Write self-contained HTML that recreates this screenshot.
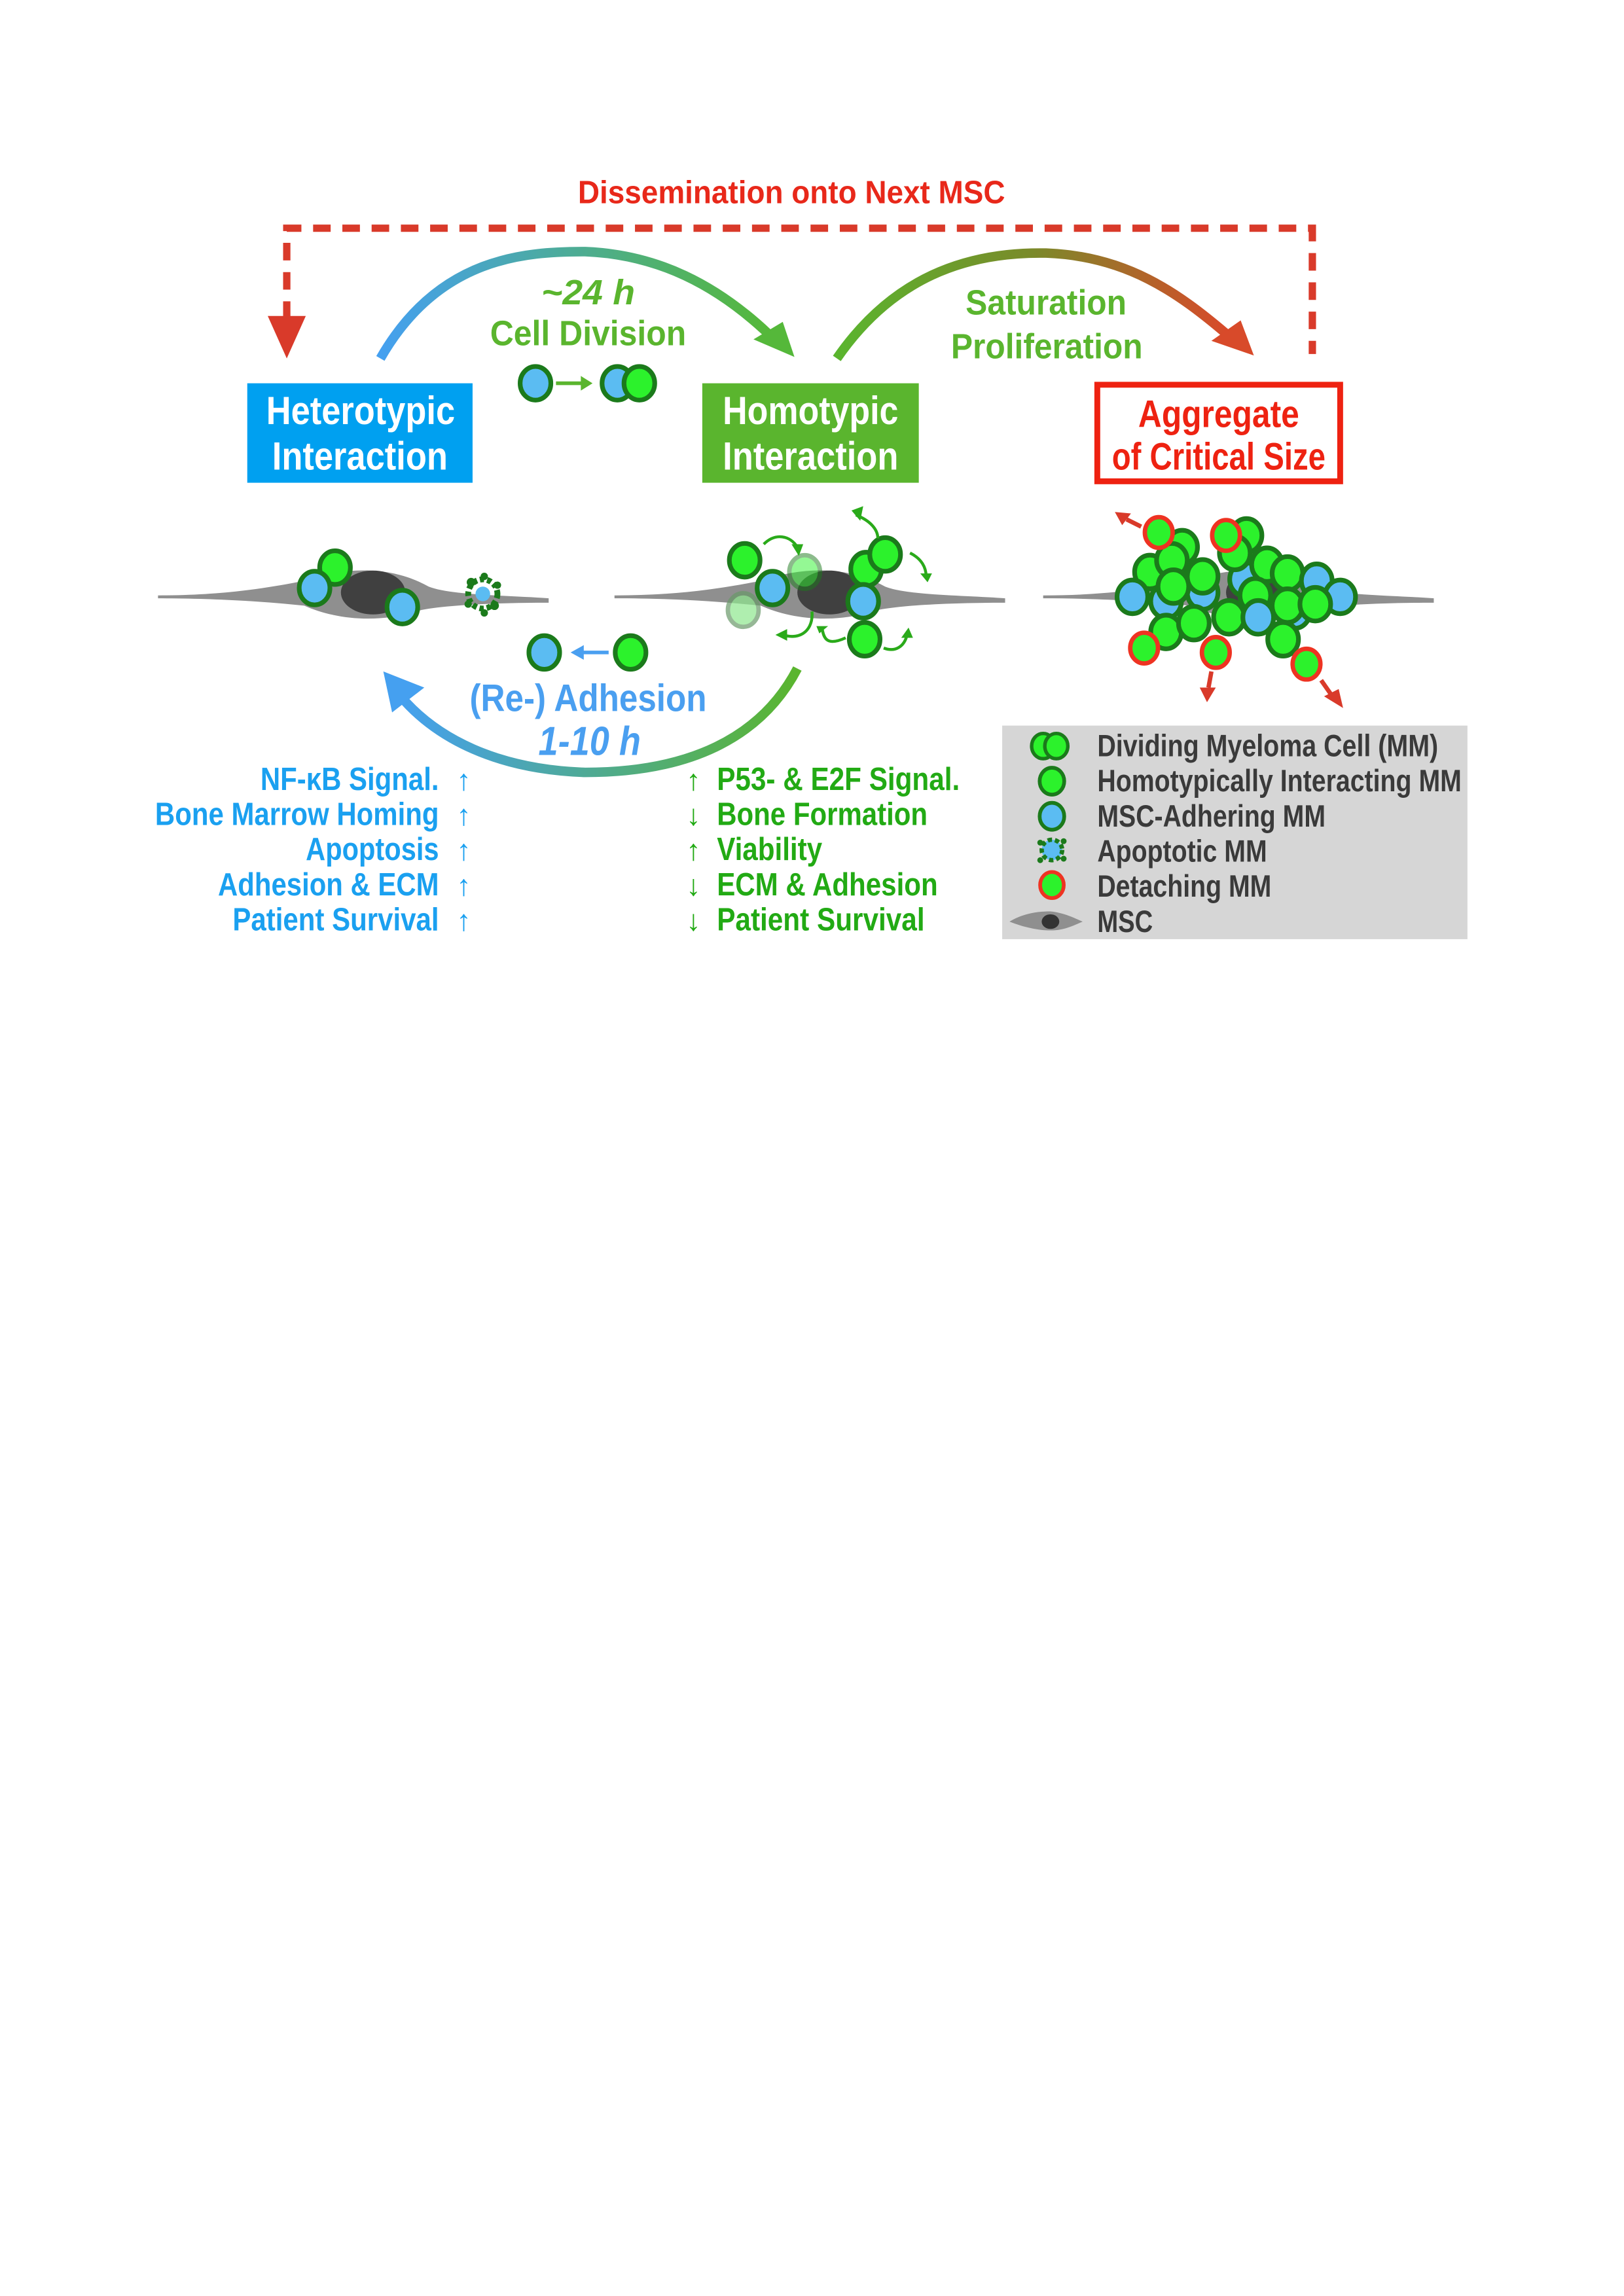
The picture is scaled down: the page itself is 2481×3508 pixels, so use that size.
<!DOCTYPE html>
<html><head><meta charset="utf-8"><style>
html,body{margin:0;padding:0;background:#fff}
svg{display:block}
text{font-family:"Liberation Sans Narrow","Liberation Sans",sans-serif;font-weight:bold}
</style></head><body>
<svg width="2481" height="3508" viewBox="0 0 1110 1569.5" xmlns="http://www.w3.org/2000/svg">
<defs>
<linearGradient id="g1" x1="0" x2="1"><stop offset="0" stop-color="#45a0f0"/><stop offset="1" stop-color="#55b83a"/></linearGradient>
<linearGradient id="g2" x1="0" x2="1"><stop offset="0" stop-color="#5ab52e"/><stop offset="0.5" stop-color="#7a8a2a"/><stop offset="1" stop-color="#d84a2a"/></linearGradient>
<linearGradient id="g3" x1="0" x2="1"><stop offset="0" stop-color="#45a0f0"/><stop offset="1" stop-color="#5ab52e"/></linearGradient>
<g id="msc"><path d="M0,0 C40,0 70,-4 100,-10 C130,-20 160,-20 185,-6 C200,0 240,0 267,2 L267,5 C240,5 200,6 180,10 C150,20 120,16 100,7 C70,4 40,2 0,2Z" fill="#8f8f8f"/></g>
<g id="gc"><ellipse rx="10.5" ry="11.5" fill="#2cf22c" stroke="#1b7a1b" stroke-width="3.2"/></g>
<g id="bc"><ellipse rx="10.5" ry="11.5" fill="#5bbcf2" stroke="#1b7a1b" stroke-width="3.2"/></g>
<g id="rc"><ellipse rx="9.5" ry="10.5" fill="#2cf22c" stroke="#ee3322" stroke-width="3"/></g>
</defs>

<text x="395" y="139" font-size="22" fill="#e8281a" textLength="292" lengthAdjust="spacingAndGlyphs">Dissemination onto Next MSC</text>
<path d="M196,218 V156 H897 V242" fill="none" stroke="#d93a2a" stroke-width="5" stroke-dasharray="12,8"/>
<polygon points="183,216 209,216 196,245" fill="#d93a2a"/>

<path d="M260,245 C300,175 360,172 400,172 C450,174 490,195 525,228" fill="none" stroke="url(#g1)" stroke-width="6.5"/>
<polygon points="515,232 535,220 543,244" fill="#55b83a"/>
<path d="M572,245 C610,190 660,172 715,173 C770,175 805,200 838,228" fill="none" stroke="url(#g2)" stroke-width="6.5"/>
<polygon points="828,233 848,219 857,243" fill="#d84a2a"/>

<text x="370" y="208" font-size="24" fill="#5ab52e" font-style="italic" textLength="64" lengthAdjust="spacingAndGlyphs">~24 h</text>
<text x="335" y="236" font-size="24" fill="#5ab52e" textLength="134" lengthAdjust="spacingAndGlyphs">Cell Division</text>
<text x="660" y="215" font-size="24" fill="#5ab52e" textLength="110" lengthAdjust="spacingAndGlyphs">Saturation</text>
<text x="650" y="245" font-size="24" fill="#5ab52e" textLength="131" lengthAdjust="spacingAndGlyphs">Proliferation</text>

<use href="#bc" x="366" y="262"/>
<path d="M380,262 H398" stroke="#5ab52e" stroke-width="2.5"/><polygon points="397,257 405,262 397,267" fill="#5ab52e"/>
<use href="#bc" x="422" y="262"/><use href="#gc" x="437" y="262"/>

<rect x="169" y="262" width="154" height="68" fill="#00a0f0"/>
<text x="182" y="290" font-size="27" fill="#fff" textLength="129" lengthAdjust="spacingAndGlyphs">Heterotypic</text>
<text x="186" y="321" font-size="27" fill="#fff" textLength="120" lengthAdjust="spacingAndGlyphs">Interaction</text>
<rect x="480" y="262" width="148" height="68" fill="#5ab52e"/>
<text x="494" y="290" font-size="27" fill="#fff" textLength="120" lengthAdjust="spacingAndGlyphs">Homotypic</text>
<text x="494" y="321" font-size="27" fill="#fff" textLength="120" lengthAdjust="spacingAndGlyphs">Interaction</text>
<rect x="750" y="263" width="166" height="66" fill="none" stroke="#ee2211" stroke-width="4"/>
<text x="778" y="292" font-size="26" fill="#ee2211" textLength="110" lengthAdjust="spacingAndGlyphs">Aggregate</text>
<text x="760" y="321" font-size="26" fill="#ee2211" textLength="146" lengthAdjust="spacingAndGlyphs">of Critical Size</text>

<!-- MSCs -->
<use href="#msc" x="108" y="407"/>
<ellipse cx="255" cy="405" rx="22" ry="15" fill="#404040"/>
<use href="#msc" x="420" y="407"/>
<ellipse cx="567" cy="405" rx="22" ry="15" fill="#404040"/>
<use href="#msc" x="713" y="407"/>
<ellipse cx="860" cy="405" rx="22" ry="15" fill="#404040"/>

<!-- left cells -->
<rect x="205" y="395" width="6" height="14" fill="#1a90e0"/>
<use href="#gc" x="229" y="388"/><use href="#bc" x="215" y="402"/><use href="#bc" x="275" y="415"/>
<g fill="#1b7a1b"><circle cx="330" cy="406" r="10" fill="none" stroke="#1b7a1b" stroke-width="4" stroke-dasharray="3,2"/><circle cx="330" cy="406" r="5" fill="#5bbcf2"/><circle cx="322" cy="398" r="3"/><circle cx="338" cy="414" r="3"/><circle cx="340" cy="400" r="2.5"/><circle cx="320" cy="413" r="2.5"/><circle cx="331" cy="394" r="2.5"/><circle cx="331" cy="419" r="2.5"/></g>

<!-- middle cells -->
<use href="#gc" x="509" y="383"/><use href="#bc" x="528" y="402"/>
<ellipse cx="550" cy="391" rx="10.5" ry="11.5" fill="#2cf22c" stroke="#1b7a1b" stroke-width="3" opacity="0.5"/>
<ellipse cx="508" cy="417" rx="10.5" ry="11.5" fill="#8ee88e" stroke="#6a9a6a" stroke-width="3" opacity="0.7"/>
<use href="#gc" x="592" y="389"/><use href="#gc" x="605" y="379"/><use href="#bc" x="590" y="411"/><use href="#gc" x="591" y="437"/>
<g fill="none" stroke="#2aaa1a" stroke-width="2">
<path d="M522,372 C530,364 540,366 545,374"/><path d="M585,352 C595,356 600,362 600,368"/><path d="M622,378 C630,382 633,388 633,394"/>
<path d="M555,418 C556,430 548,438 535,434"/><path d="M578,436 C565,442 563,436 562,430"/><path d="M604,443 C612,446 618,442 620,434"/></g>
<g fill="#2aaa1a"><polygon points="541,372 549,372 546,380"/><polygon points="582,349 590,346 588,356"/><polygon points="629,392 637,392 634,398"/><polygon points="538,430 538,438 530,434"/><polygon points="558,428 566,428 560,433"/><polygon points="616,436 624,436 621,429"/></g>

<!-- aggregate -->
<use href="#gc" x="808" y="374"/><use href="#gc" x="852" y="366"/>
<use href="#gc" x="786" y="391"/><use href="#gc" x="801" y="383"/><use href="#bc" x="851" y="396"/><use href="#gc" x="844" y="378"/>
<use href="#gc" x="866" y="386"/><use href="#gc" x="880" y="392"/><use href="#bc" x="900" y="397"/>
<use href="#bc" x="774" y="408"/><use href="#bc" x="797" y="411"/><use href="#bc" x="822" y="405"/><use href="#gc" x="802" y="401"/><use href="#gc" x="822" y="394"/>
<use href="#gc" x="858" y="407"/><use href="#bc" x="885" y="418"/><use href="#gc" x="880" y="414"/><use href="#bc" x="916" y="408"/><use href="#gc" x="899" y="413"/>
<use href="#gc" x="797" y="432"/><use href="#gc" x="816" y="426"/><use href="#gc" x="840" y="422"/><use href="#bc" x="860" y="422"/>
<use href="#gc" x="877" y="437"/>
<use href="#rc" x="792" y="364"/><use href="#rc" x="838" y="366"/><use href="#rc" x="782" y="443"/><use href="#rc" x="831" y="446"/><use href="#rc" x="893" y="454"/>
<g stroke="#d93a2a" stroke-width="3"><path d="M780,360 L770,355"/><path d="M828,459 L826,470"/><path d="M903,465 L910,475"/></g>
<g fill="#d93a2a"><polygon points="762,350 773,351 767,359"/><polygon points="820,470 831,470 825,480"/><polygon points="905,476 915,471 918,484"/></g>

<!-- readhesion -->
<use href="#bc" x="372" y="446"/><use href="#gc" x="431" y="446"/>
<path d="M398,446 H416" stroke="#4a9ff0" stroke-width="2.5"/><polygon points="399,441 390,446 399,451" fill="#4a9ff0"/>
<path d="M545,457 C520,505 470,528 400,528 C340,526 298,505 273,475" fill="none" stroke="url(#g3)" stroke-width="6.5"/>
<polygon points="262,459 290,470 268,487" fill="#45a0f0"/>
<text x="321" y="486" font-size="26" fill="#4a9ff0" textLength="162" lengthAdjust="spacingAndGlyphs">(Re-) Adhesion</text>
<text x="368" y="516" font-size="28" fill="#4a9ff0" font-style="italic" textLength="70" lengthAdjust="spacingAndGlyphs">1-10 h</text>

<!-- lists -->
<g font-size="22" fill="#1aa0f0" lengthAdjust="spacingAndGlyphs">
<text x="178" y="540" textLength="122" lengthAdjust="spacingAndGlyphs">NF-κB Signal.</text>
<text x="106" y="564" textLength="194" lengthAdjust="spacingAndGlyphs">Bone Marrow Homing</text>
<text x="209" y="588" textLength="91" lengthAdjust="spacingAndGlyphs">Apoptosis</text>
<text x="149" y="612" textLength="151" lengthAdjust="spacingAndGlyphs">Adhesion &amp; ECM</text>
<text x="159" y="636" textLength="141" lengthAdjust="spacingAndGlyphs">Patient Survival</text></g>
<g font-size="20" fill="#1aa0f0" text-anchor="middle" font-weight="normal">
<text x="317" y="540">↑</text><text x="317" y="564">↑</text><text x="317" y="588">↑</text><text x="317" y="612">↑</text><text x="317" y="636">↑</text></g>
<g font-size="22" fill="#22aa14">
<text x="490" y="540" textLength="166" lengthAdjust="spacingAndGlyphs">P53- &amp; E2F Signal.</text>
<text x="490" y="564" textLength="144" lengthAdjust="spacingAndGlyphs">Bone Formation</text>
<text x="490" y="588" textLength="72" lengthAdjust="spacingAndGlyphs">Viability</text>
<text x="490" y="612" textLength="151" lengthAdjust="spacingAndGlyphs">ECM &amp; Adhesion</text>
<text x="490" y="636" textLength="142" lengthAdjust="spacingAndGlyphs">Patient Survival</text></g>
<g font-size="20" fill="#22aa14" text-anchor="middle" font-weight="normal">
<text x="474" y="540">↑</text><text x="474" y="564">↓</text><text x="474" y="588">↑</text><text x="474" y="612">↓</text><text x="474" y="636">↓</text></g>

<!-- legend -->
<rect x="685" y="496" width="318" height="146" fill="#d6d6d6"/>
<g transform="translate(713,510) scale(0.75)"><use href="#gc" x="0" y="0"/><use href="#gc" x="12" y="0"/></g>
<g transform="translate(719,534) scale(0.8)"><use href="#gc"/></g>
<g transform="translate(719,558) scale(0.8)"><use href="#bc"/></g>
<g fill="#1b7a1b"><circle cx="719" cy="581" r="7" fill="#5bbcf2" stroke="#1b7a1b" stroke-width="3" stroke-dasharray="3,2"/><circle cx="711" cy="576" r="2"/><circle cx="727" cy="587" r="2"/><circle cx="727" cy="575" r="2"/><circle cx="711" cy="588" r="2"/></g>
<g transform="translate(719,605) scale(0.85)"><use href="#rc"/></g>
<path d="M690,630 C700,624 710,623 718,623 C728,624 735,628 740,630 C735,632 728,636 718,636 C710,636 700,634 690,630Z" fill="#8f8f8f"/>
<ellipse cx="718" cy="630" rx="6" ry="5" fill="#333"/>
<g font-size="21" fill="#3a3a3a">
<text x="750" y="517" textLength="233" lengthAdjust="spacingAndGlyphs">Dividing Myeloma Cell (MM)</text>
<text x="750" y="541" textLength="249" lengthAdjust="spacingAndGlyphs">Homotypically Interacting MM</text>
<text x="750" y="565" textLength="156" lengthAdjust="spacingAndGlyphs">MSC-Adhering MM</text>
<text x="750" y="589" textLength="116" lengthAdjust="spacingAndGlyphs">Apoptotic MM</text>
<text x="750" y="613" textLength="119" lengthAdjust="spacingAndGlyphs">Detaching MM</text>
<text x="750" y="637" textLength="38" lengthAdjust="spacingAndGlyphs">MSC</text></g>
</svg>
</body></html>
